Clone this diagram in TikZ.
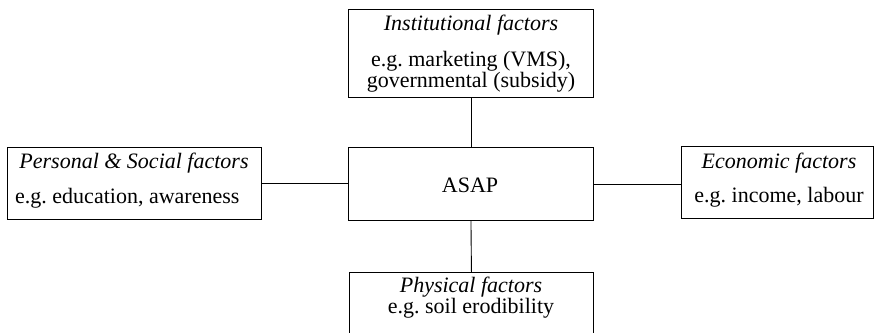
\documentclass[tikz,border=0pt]{standalone}
\usepackage{fontspec}
\setmainfont{Liberation Serif}
\frenchspacing
\begin{document}
\begin{tikzpicture}[x=1pt,y=-1pt,
  box/.style={draw,line width=0.9pt,inner sep=0pt,anchor=north west},
  lbl/.style={inner sep=0pt,anchor=base,font=\fontsize{22}{26}\selectfont},
  title/.style={lbl,font=\fontsize{22}{26}\selectfont\itshape},
  link/.style={line width=0.9pt}]
\useasboundingbox (0,0) rectangle (874,332);

% boxes
\node[box,minimum width=245pt,minimum height=88pt] (inst) at (348,9) {};
\node[box,minimum width=254pt,minimum height=72pt] (pers) at (7,147) {};
\node[box,minimum width=245pt,minimum height=73pt] (asap) at (348,147) {};
\node[box,minimum width=192pt,minimum height=72pt] (econ) at (681,146) {};
\node[box,minimum width=244pt,minimum height=75pt] (phys) at (349,272) {};

% texts
\node[title] (instT) at (471,30) {Institutional factors};
\node[lbl] (instA) at (471,66) {e.g. marketing (VMS),};
\node[lbl] (instB) at (471,87) {governmental (subsidy)};

\node[title] (persT) at (134,168) {Personal \& Social factors};
\node[lbl,anchor=base west] (persA) at (15,203) {e.g. education, awareness};

\node[lbl] (asapT) at (470,192) {ASAP};

\node[title] (econT) at (779,168) {Economic factors};
\node[lbl] (econA) at (779,202) {e.g. income, labour};

\node[title] (physT) at (471,292) {Physical factors};
\node[lbl] (physA) at (471,313) {e.g. soil erodibility};

% connectors
\draw[link] (inst.south) -- (asap.north);
\draw[link] (asap.south) -- (phys.north);
\draw[link] (pers.east) -- (pers.east -| asap.west);
\draw[link] (asap.east) -- (asap.east -| econ.west);
\end{tikzpicture}
\end{document}
